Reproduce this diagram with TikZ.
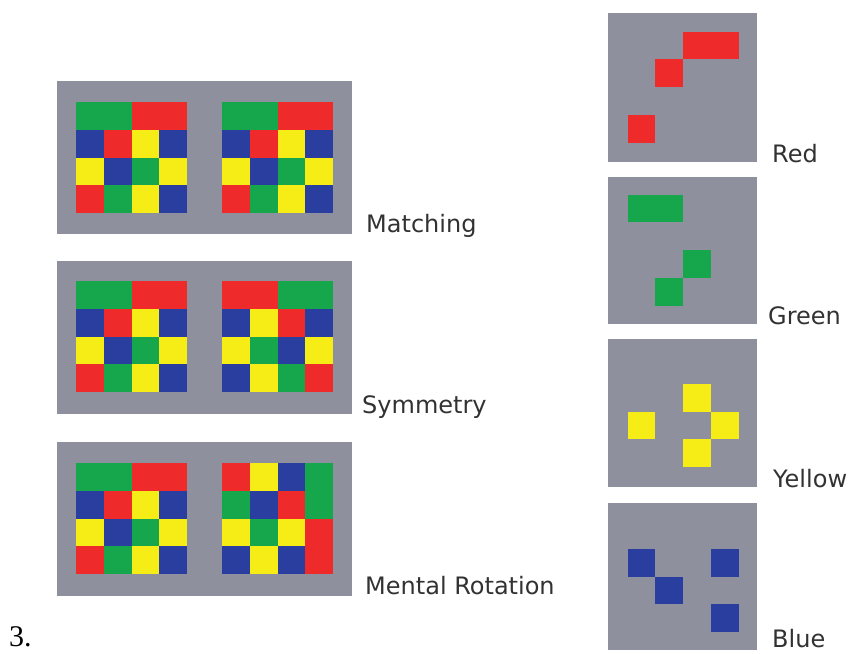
\documentclass[tikz,border=0pt]{standalone}
\usepackage{fontspec}
\setmainfont{DejaVu Sans}
\newfontfamily\numfont{Liberation Serif}
\definecolor{panelgray}{RGB}{143,144,158}
\definecolor{cR}{RGB}{238,42,42}
\definecolor{cG}{RGB}{22,166,76}
\definecolor{cY}{RGB}{246,236,22}
\definecolor{cB}{RGB}{42,62,160}
\definecolor{txt}{RGB}{50,50,50}
\def\cs{27.75}
\newcommand\mygrid[3]{%
  \foreach \cc [count=\k from 0] in {#3} {%
    \pgfmathtruncatemacro\gcol{mod(\k,4)}%
    \pgfmathtruncatemacro\grow{div(\k,4)}%
    \fill[\cc] ({#1+\gcol*\cs},{#2+\grow*\cs}) rectangle ++(\cs,\cs);
  }%
}
\newcommand\cellat[5]{\fill[#5] ({#1+#3*\cs},{#2+#4*\cs}) rectangle ++(\cs,\cs);}
\tikzset{
  panel/.style={fill=panelgray},
  lbl/.style={anchor=base west, inner sep=0pt, text=txt, font=\fontsize{24}{28}\selectfont},
}
\begin{document}
\begin{tikzpicture}[x=1pt,y=-1pt]
\useasboundingbox (0,0) rectangle (853,653);
% ---- left panels ----
\fill[panel] (57,81) rectangle (352,234);
\fill[panel] (57,261) rectangle (352,414);
\fill[panel] (57,442) rectangle (352,596);
% base grid (left of each panel)
\foreach \yy in {102,281,463} {
  \mygrid{76}{\yy}{cG,cG,cR,cR, cB,cR,cY,cB, cY,cB,cG,cY, cR,cG,cY,cB}
}
% Matching
\mygrid{222}{102}{cG,cG,cR,cR, cB,cR,cY,cB, cY,cB,cG,cY, cR,cG,cY,cB}
% Symmetry
\mygrid{222}{281}{cR,cR,cG,cG, cB,cY,cR,cB, cY,cG,cB,cY, cB,cY,cG,cR}
% Mental rotation
\mygrid{222}{463}{cR,cY,cB,cG, cG,cB,cR,cG, cY,cG,cY,cR, cB,cY,cB,cR}
\node[lbl] (matching) at (366,232) {Matching};
\node[lbl] (symmetry) at (362,413) {Symmetry};
\node[lbl] (mental) at (365,594) {Mental Rotation};
% ---- right panels ----
\fill[panel] (608,13) rectangle (757,162);
\fill[panel] (608,177) rectangle (757,324);
\fill[panel] (608,339) rectangle (757,487);
\fill[panel] (608,503) rectangle (757,650);
% red
\cellat{627.5}{31.5}{2}{0}{cR}\cellat{627.5}{31.5}{3}{0}{cR}
\cellat{627.5}{31.5}{1}{1}{cR}\cellat{627.5}{31.5}{0}{3}{cR}
% green
\cellat{627.5}{194.5}{0}{0}{cG}\cellat{627.5}{194.5}{1}{0}{cG}
\cellat{627.5}{194.5}{2}{2}{cG}\cellat{627.5}{194.5}{1}{3}{cG}
% yellow
\cellat{627.5}{356}{2}{1}{cY}\cellat{627.5}{356}{0}{2}{cY}
\cellat{627.5}{356}{3}{2}{cY}\cellat{627.5}{356}{2}{3}{cY}
% blue
\cellat{627.5}{521}{0}{1}{cB}\cellat{627.5}{521}{3}{1}{cB}
\cellat{627.5}{521}{1}{2}{cB}\cellat{627.5}{521}{3}{3}{cB}
\node[lbl] (red) at (772,162) {Red};
\node[lbl] (green) at (768,324) {Green};
\node[lbl] (yellow) at (773,487) {Yellow};
\node[lbl] (blue) at (772,647) {Blue};
\node[anchor=base west, inner sep=0pt, font=\numfont\fontsize{30}{34}\selectfont] (num) at (9,646) {3.};
\end{tikzpicture}
\end{document}
